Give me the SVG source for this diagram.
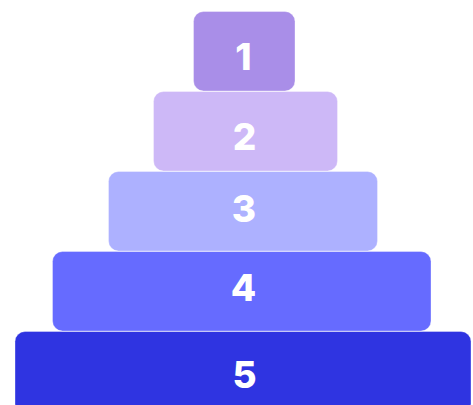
<svg xmlns="http://www.w3.org/2000/svg" width="473" height="405" viewBox="0 0 473 405">
<style>
.box{stroke:#ffffff;stroke-opacity:0.35;stroke-width:1}
.lbl{font-family:Inter,"Liberation Sans",sans-serif;font-weight:800;font-size:37px;fill:#ffffff;text-anchor:middle}
</style>
<rect width="473" height="405" fill="#ffffff"/>
<g id="connectors"></g>
<g id="node5">
<rect class="box" x="15" y="331.5" width="456" height="82" rx="10" fill="#2F34E1"/>
<text class="lbl" x="244.5" y="388">5</text>
</g>
<g id="node4">
<rect class="box" x="52.5" y="251.5" width="378.5" height="79.5" rx="10" fill="#666BFF"/>
<text class="lbl" x="243.5" y="300.5">4</text>
</g>
<g id="node3">
<rect class="box" x="108.5" y="171.5" width="269" height="79.5" rx="10" fill="#ADB1FF"/>
<text class="lbl" x="244" y="222">3</text>
</g>
<g id="node2">
<rect class="box" x="153.5" y="91.5" width="184" height="79.5" rx="10" fill="#CDB8F7"/>
<text class="lbl" x="244.5" y="150">2</text>
</g>
<g id="node1">
<rect class="box" x="193.5" y="11.5" width="101.5" height="79.5" rx="10" fill="#A98EE8"/>
<text class="lbl" x="243.5" y="70">1</text>
</g>
</svg>
